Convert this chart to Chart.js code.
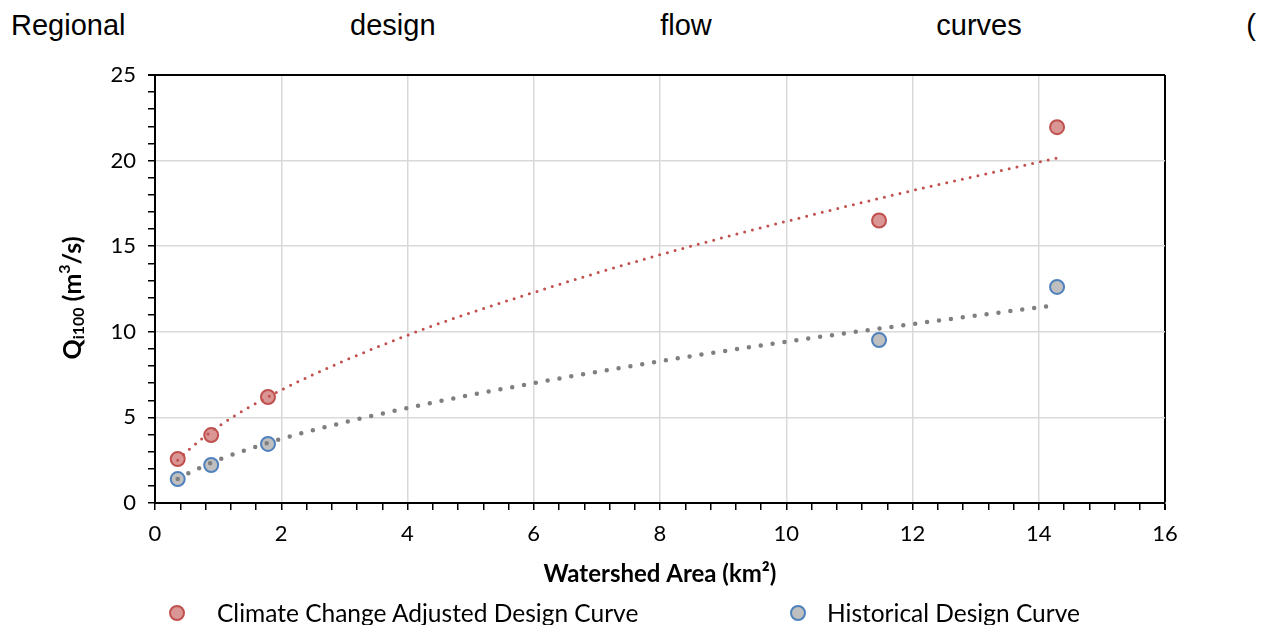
<!DOCTYPE html>
<html lang="en">
<head>
    <meta charset="UTF-8">
    <title>Regional design flow curves</title>
    <script src="https://cdn.jsdelivr.net/npm/chart.js"></script>
    <style>
        html, body { margin: 0; padding: 0; background: #fff; }
        body { width: 1262px; height: 625px; position: relative; overflow: hidden; }
        .page-title {
            position: absolute; left: 11px; right: 6px; top: 7px;
            font-family: "Liberation Sans", Arial, sans-serif; font-size: 29px; color: #000;
            white-space: nowrap; line-height: 36px;
            display: flex; justify-content: space-between;
        }
        .wrap { position: absolute; left: 0; top: 0; width: 1262px; height: 625px; }
        .legend { position: absolute; top: 599px; left: 0; width: 1262px; height: 28px;
            font-family: Lato, "Open Sans", sans-serif; font-size: 24.5px; color: #000; }
        .legend .item { position: absolute; top: 0; line-height: 28px; white-space: nowrap; }
        .legend .dot { position: absolute; top: 6px; width: 12px; height: 12px; border-radius: 50%; border: 2px solid; }
    </style>
</head>
<body>
    <div class="page-title"><span>Regional</span><span>design</span><span>flow</span><span>curves</span><span>(</span></div>
    <div class="wrap"><canvas id="flowChart"></canvas></div>
    <div class="legend">
        <span class="dot" id="dotClimate" style="left:169px"></span>
        <span class="item" style="left:217px">Climate Change Adjusted Design Curve</span>
        <span class="dot" id="dotHist" style="left:790px"></span>
        <span class="item" style="left:827px">Historical Design Curve</span>
    </div>

<script>
    // measured points (watershed area km2 vs Qi100 m3/s)
    const areaKm2 = [0.36, 0.89, 1.79, 11.47, 14.29];
    const climateQ = [2.57, 3.97, 6.19, 16.5, 21.95];
    const historicalQ = [1.40, 2.22, 3.45, 9.52, 12.62];

    // dotted trend curves
    const trendArea = [0.36, 0.5, 1, 2, 4, 6, 8, 10, 12, 14.29];
    const climateTrend = [2.5, 3.0, 4.46, 6.6, 9.8, 12.3, 14.5, 16.45, 18.25, 20.15];
    const historicalTrend = [1.4, 1.68, 2.51, 3.74, 5.55, 7.0, 8.28, 9.42, 10.45, 11.57];

    const xTicks = [0, 2, 4, 6, 8, 10, 12, 14, 16];
    const yTicks = [0, 5, 10, 15, 20, 25];

    const legendLabels = ['Climate Change Adjusted Design Curve', 'Historical Design Curve'];

    const red = '#C0504D', redFill = '#D99694';
    const blue = '#4F81BD', grayFill = '#BFBFBF', trendGray = '#7F7F7F';

    document.getElementById('dotClimate').style.background = redFill;
    document.getElementById('dotClimate').style.borderColor = red;
    document.getElementById('dotHist').style.background = grayFill;
    document.getElementById('dotHist').style.borderColor = blue;

    function pts(xs, ys) {
        return xs.map((x, i) => ({ x: x, y: ys[i] }));
    }
    function isMajor(v, list) {
        return list.some(t => Math.abs(t - v) < 1e-6);
    }

    const tickFont = { family: 'Lato, "Open Sans", sans-serif', size: 22 };

    // y axis title with subscript, drawn on the canvas
    const yTitlePlugin = {
        id: 'yTitle',
        afterDraw(chart) {
            const ctx = chart.ctx;
            const area = chart.chartArea;
            const parts = [
                { t: 'Q', size: 25, dy: 0 },
                { t: 'i100', size: 16, dy: 6 },
                { t: ' (m', size: 25, dy: 0 },
                { t: '3', size: 16, dy: -8 },
                { t: '/s)', size: 25, dy: 0 }
            ];
            ctx.save();
            let total = 0;
            parts.forEach(p => {
                ctx.font = 'bold ' + p.size + 'px Lato, "Open Sans", sans-serif';
                p.w = ctx.measureText(p.t).width;
                total += p.w;
            });
            ctx.translate(73, (area.top + area.bottom) / 2 + 9);
            ctx.rotate(-Math.PI / 2);
            ctx.fillStyle = '#000';
            ctx.textBaseline = 'middle';
            let x = -total / 2;
            parts.forEach(p => {
                ctx.font = 'bold ' + p.size + 'px Lato, "Open Sans", sans-serif';
                ctx.fillText(p.t, x, p.dy);
                x += p.w;
            });
            ctx.restore();
        }
    };

    const ctx = document.getElementById('flowChart').getContext('2d');
    const flowChart = new Chart(ctx, {
        type: 'scatter',
        data: {
            datasets: [
                {
                    label: 'Climate trend',
                    data: pts(trendArea, climateTrend),
                    showLine: true,
                    borderColor: red,
                    borderWidth: 3,
                    borderDash: [0, 8],
                    borderCapStyle: 'round',
                    cubicInterpolationMode: 'monotone',
                    pointRadius: 0,
                    order: 0
                },
                {
                    label: 'Historical trend',
                    data: pts(trendArea, historicalTrend),
                    showLine: true,
                    borderColor: trendGray,
                    borderWidth: 4.5,
                    borderDash: [0, 12],
                    borderCapStyle: 'round',
                    cubicInterpolationMode: 'monotone',
                    pointRadius: 0,
                    order: 0
                },
                {
                    label: legendLabels[0],
                    data: pts(areaKm2, climateQ),
                    backgroundColor: redFill,
                    borderColor: red,
                    borderWidth: 2,
                    pointRadius: 7,
                    order: 1
                },
                {
                    label: legendLabels[1],
                    data: pts(areaKm2, historicalQ),
                    backgroundColor: grayFill,
                    borderColor: blue,
                    borderWidth: 2,
                    pointRadius: 7,
                    order: 1
                }
            ]
        },
        options: {
            responsive: true,
            maintainAspectRatio: false,
            animation: false,
            layout: { padding: { top: 75, right: 97, left: 0, bottom: 0 } },
            plugins: {
                legend: { display: false },
                tooltip: { enabled: false }
            },
            scales: {
                x: {
                    type: 'linear',
                    min: 0,
                    max: 16,
                    afterFit: function(scale) { scale.height = 122; },
                    border: { color: '#000', width: 2 },
                    grid: {
                        color: c => c.tick.value >= 16 - 1e-6 ? '#000' : (isMajor(c.tick.value, xTicks) ? '#D9D9D9' : 'rgba(0,0,0,0)'),
                        lineWidth: c => c.tick.value >= 16 - 1e-6 ? 2 : 1.5,
                        tickColor: '#000',
                        tickLength: 7
                    },
                    ticks: {
                        stepSize: 0.4,
                        autoSkip: false,
                        maxRotation: 0,
                        padding: 11,
                        color: '#000',
                        font: tickFont,
                        callback: v => isMajor(v, xTicks) ? String(Math.round(v)) : ''
                    },
                    title: {
                        display: true,
                        text: 'Watershed Area (km²)',
                        color: '#000',
                        font: { family: 'Lato, "Open Sans", sans-serif', size: 24, weight: 'bold' },
                        padding: { top: 0, bottom: 36 }
                    }
                },
                y: {
                    type: 'linear',
                    min: 0,
                    max: 25,
                    afterFit: function(scale) { scale.width = 155; },
                    border: { color: '#000', width: 2 },
                    grid: {
                        color: c => c.tick.value >= 25 ? '#000' : (isMajor(c.tick.value, yTicks) ? '#D9D9D9' : 'rgba(0,0,0,0)'),
                        lineWidth: c => c.tick.value >= 25 ? 2 : 1.5,
                        tickColor: '#000',
                        tickLength: 7
                    },
                    ticks: {
                        stepSize: 1,
                        autoSkip: false,
                        padding: 12,
                        color: '#000',
                        font: tickFont,
                        callback: v => isMajor(v, yTicks) ? String(v) : ''
                    }
                }
            }
        },
        plugins: [yTitlePlugin]
    });
</script>
</body>
</html>
